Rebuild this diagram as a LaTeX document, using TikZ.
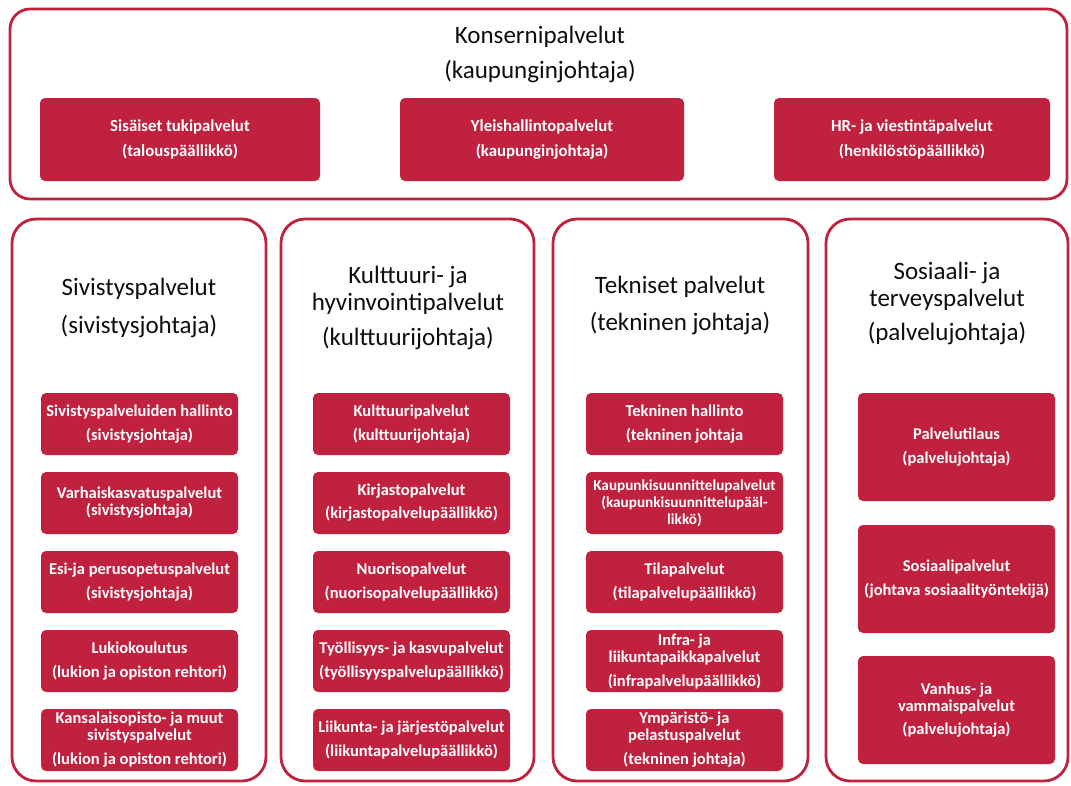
\documentclass[tikz,border=0pt]{standalone}
\usepackage{fontspec}
\setmainfont{Carlito}
\usetikzlibrary{positioning}
\definecolor{kred}{RGB}{192,33,63}

\begin{document}
\begin{tikzpicture}[line cap=round,line join=round,x=1pt,y=-1pt,
  frame/.style={draw=kred,line width=2.8pt,rounded corners=24pt},
  unit/.style={fill=kred,rounded corners=5pt,text=white,align=center,inner sep=1pt,
    font=\fontsize{16.5}{17}\selectfont\bfseries,minimum width=197pt,minimum height=62pt},
  topunit/.style={unit,font=\fontsize{16.8}{18}\selectfont\bfseries,minimum height=83pt},
  head/.style={align=center,text=black!95,font=\fontsize{25}{27}\selectfont}]
\useasboundingbox (0,0) rectangle (1071,785);

% Konsernipalvelut
\draw[frame,rounded corners=20pt] (10,9) rectangle (1067,199);
\node[head] (konserni) at (540,54) {Konsernipalvelut\\[8pt](kaupunginjohtaja)};
\node[topunit,minimum width=280pt] (tuki) at (180,139.5) {Sisäiset tukipalvelut\\[7pt](talouspäällikkö)};
\node[topunit,minimum width=284pt] (yleis) at (542,139.5) {Yleishallintopalvelut\\[7pt](kaupunginjohtaja)};
\node[topunit,minimum width=276pt] (hr) at (912,139.5) {HR- ja viestintäpalvelut\\[7pt](henkilöstöpäällikkö)};

% toimialat
\foreach \xa/\xb in
{   12/266, 281/534, 553/808, 826/1068
}
    \draw[frame] (\xa,219) rectangle (\xb,781);

\node[head] (siv) at (139,308) {Sivistyspalvelut\\[11pt](sivistysjohtaja)};
\node[head] (kult) at (408,308) {Kulttuuri- ja\\hyvinvointipalvelut\\[8pt](kulttuurijohtaja)};
\node[head] (tek) at (680,305) {Tekniset palvelut\\[10pt](tekninen johtaja)};
\node[head] (sos) at (947,303) {Sosiaali- ja\\terveyspalvelut\\[7pt](palvelujohtaja)};

\node[unit] (siv1) at (139.5,424) {Sivistyspalveluiden hallinto\\[7pt](sivistysjohtaja)};
\node[unit] (siv2) at (139.5,503) {Varhaiskasvatuspalvelut\\(sivistysjohtaja)};
\node[unit] (siv3) at (139.5,582) {Esi-ja perusopetuspalvelut\\[7pt](sivistysjohtaja)};
\node[unit] (siv4) at (139.5,661) {Lukiokoulutus\\[7pt](lukion ja opiston rehtori)};
\node[unit] (siv5) at (139.5,740) {Kansalaisopisto- ja muut\\sivistyspalvelut\\[7pt](lukion ja opiston rehtori)};

\node[unit] (kult1) at (411.5,424) {Kulttuuripalvelut\\[7pt](kulttuurijohtaja)};
\node[unit] (kult2) at (411.5,503) {Kirjastopalvelut\\[6pt](kirjastopalvelupäällikkö)};
\node[unit] (kult3) at (411.5,582) {Nuorisopalvelut\\[7pt](nuorisopalvelupäällikkö)};
\node[unit] (kult4) at (411.5,661) {Työllisyys- ja kasvupalvelut\\[7pt](työllisyyspalvelupäällikkö)};
\node[unit] (kult5) at (411.5,740) {Liikunta- ja järjestöpalvelut\\[7pt](liikuntapalvelupäällikkö)};

\node[unit] (tek1) at (684.5,424) {Tekninen hallinto\\[7pt](tekninen johtaja};
\node[unit,font=\fontsize{15.2}{17}\selectfont\bfseries] (tek2) at (684.5,503) {Kaupunkisuunnittelupalvelut\\(kaupunkisuunnittelupääl-\\likkö)};
\node[unit] (tek3) at (684.5,582) {Tilapalvelut\\[7pt](tilapalvelupäällikkö)};
\node[unit] (tek4) at (684.5,661) {Infra- ja\\liikuntapaikkapalvelut\\[7pt](infrapalvelupäällikkö)};
\node[unit] (tek5) at (684.5,740) {Ympäristö- ja\\pelastuspalvelut\\[7pt](tekninen johtaja)};

\node[unit,minimum height=108pt] (sos1) at (956.5,447) {Palvelutilaus\\[7pt](palvelujohtaja)};
\node[unit,minimum height=108pt] (sos2) at (956.5,579) {Sosiaalipalvelut\\[7pt](johtava sosiaalityöntekijä)};
\node[unit,minimum height=108pt] (sos3) at (956.5,710) {Vanhus- ja\\vammaispalvelut\\[6pt](palvelujohtaja)};
\end{tikzpicture}
\end{document}
